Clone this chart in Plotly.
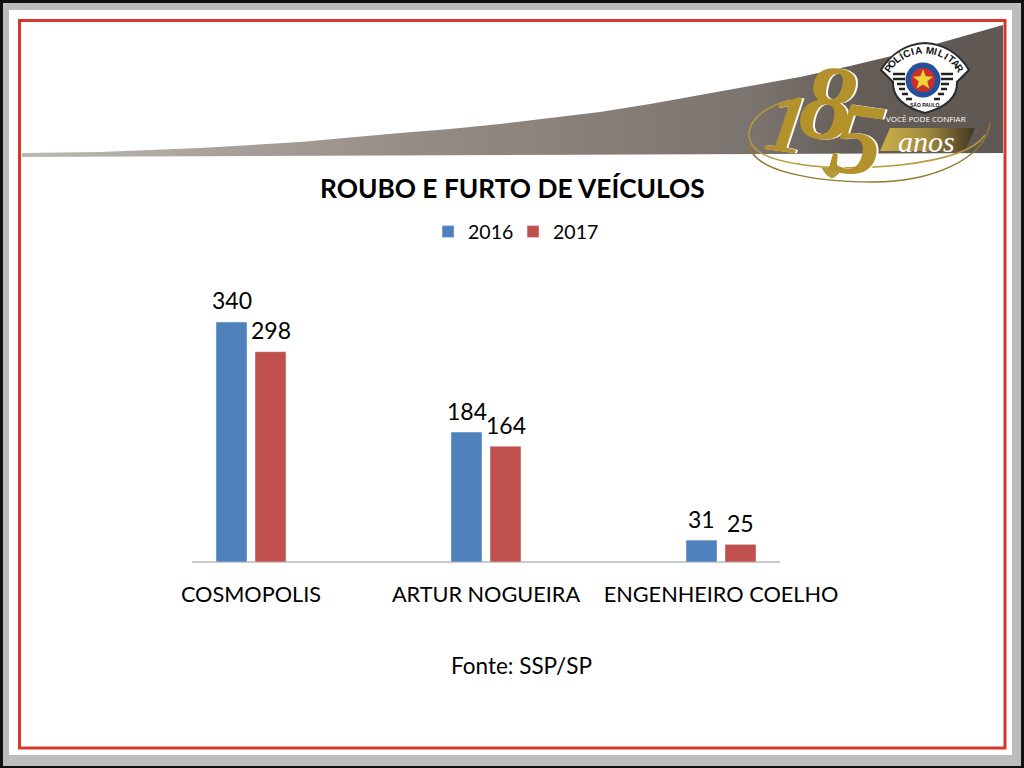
import numpy as np
import plotly.graph_objects as go

cidades = ["COSMOPOLIS", "ARTUR NOGUEIRA", "ENGENHEIRO COELHO"]
valores_2016 = [340, 184, 31]
valores_2017 = [298, 164, 25]

FONTE = "Lato"

#wedge at the top of the slide, in pixels of the page
faixa_x = [22, 100, 200, 300, 400, 450, 500, 550, 600, 650, 700, 750, 800, 850, 900, 950, 1003, 1003, 22]
faixa_y = [153, 152, 148, 142, 133, 129, 124, 118, 112, 104, 95, 86, 77, 66, 54, 40, 25, 153, 157]
anos_x = [890, 975, 965, 880]
anos_y = [128, 128, 151, 151]

fig = go.Figure()

fig.add_trace(go.Bar(x=cidades, y=valores_2016, name="2016", marker_color="#4F81BD"))
fig.add_trace(go.Bar(x=cidades, y=valores_2017, name="2017", marker_color="#C0504D"))

#wedge and the box behind "anos", on a second pair of axes that count page pixels
fig.add_trace(go.Scatter(x=faixa_x, y=faixa_y, xaxis="x2", yaxis="y2", mode="none", fill="toself",
                         showlegend=False, hoverinfo="skip",
                         fillgradient=dict(type="horizontal", colorscale=[[0, "#bdb8b3"], [0.4, "#958c85"], [0.75, "#7b736d"], [0.85, "#655d57"], [1, "#5f5751"]])))
fig.add_trace(go.Scatter(x=anos_x, y=anos_y, xaxis="x2", yaxis="y2", mode="none", fill="toself",
                         showlegend=False, hoverinfo="skip",
                         fillgradient=dict(type="horizontal", colorscale=[[0, "#cdb04a"], [0.5, "#a08a3c"], [1, "#3f3524"]])))


def caixa(x0, y0, x1, y1, cor):
    #paper refs so the frame stays under both subplots
    return dict(type="rect", xref="paper", yref="paper", x0=x0/1024, y0=1-y0/768, x1=x1/1024, y1=1-y1/768,
                fillcolor=cor, line_width=0, layer="below")


def traco(caminho, cor="#b49a3a", largura=1.5, fundo=None):
    return dict(type="path", xref="x2", yref="y2", path=caminho, line=dict(color=cor, width=largura),
                fillcolor=fundo if fundo else "rgba(0,0,0,0)", layer="above")


def circulo(cx, cy, r, cor):
    return dict(type="circle", xref="x2", yref="y2", x0=cx-r, y0=cy-r, x1=cx+r, y1=cy+r, fillcolor=cor, line_width=0, layer="above")


formas = [
    #frame of the slide
    caixa(0, 0, 1024, 768, "#111111"),
    caixa(3, 3, 1021, 766, "#bdbdbd"),
    caixa(9, 10, 1012, 755, "#ffffff"),
    dict(type="rect", xref="paper", yref="paper", x0=19.5/1024, y0=1-20.5/768, x1=1005/1024, y1=1-748/768,
         line=dict(color="#d5392c", width=3), layer="below"),
    #bar baseline
    dict(type="line", xref="paper", yref="paper", x0=192/1024, y0=1-562/768, x1=780/1024, y1=1-562/768,
         line=dict(color="#b8b8b8", width=1.5), layer="below"),
    #swooshes of the 185 logo
    traco("M 790,100 C 760,108 745,125 750,140 C 756,165 830,172 900,165 C 945,160 975,150 985,135", "#b49a3a", 1.5),
    traco("M 749,143 C 750,170 810,182 873,182 C 930,182 985,160 990,123", "#8f7a2e", 1.5),
    traco("M 822,168 L 842,168 Q 838,176 832,178 Q 826,176 822,168 Z", "#b49a3a", 1, "#b49a3a"),
    #police badge
    traco("M 881,70 C 890,55 905,44 925,43 C 945,44 960,55 969,70 L 957,82 Q 958,104 925,113 Q 892,104 893,82 Z", "#2b2b2b", 2, "#ffffff"),
]

for y_l, x_a, x_b in [(84, 897, 905), (89, 899, 905), (94, 902, 908), (99, 906, 912)]:
    formas.append(traco(f"M {x_a},{y_l} L {x_b},{y_l}", "#222222", 2.5))
    formas.append(traco(f"M {1846-x_b},{y_l} L {1846-x_a},{y_l}", "#222222", 2.5))
for y_l in [74, 79]:
    formas.append(traco(f"M 893,{y_l} L 905,{y_l}", "#222222", 2.5))
    formas.append(traco(f"M 941,{y_l} L 953,{y_l}", "#222222", 2.5))

formas.append(circulo(923, 80, 17.5, "#26509b"))
formas.append(circulo(923, 80, 12, "#c8312b"))

#star, five outer and five inner corners
ang = np.deg2rad(np.arange(0, 360, 36) - 90)
raios = np.array([10, 4.2] * 5)
estrela = " L ".join(f"{923+r*np.cos(a):.1f},{80+r*np.sin(a):.1f}" for r, a in zip(raios, ang))
formas.append(traco(f"M {estrela} Z", "#f0d23c", 0.5, "#f0d23c"))

notas = []


def texto(x, y, t, tam, cor="#000000", bold=False, fonte=FONTE, rot=0, estilo="normal"):
    notas.append(dict(x=x, y=y, xref="x2", yref="y2", text=f"<b>{t}</b>" if bold else t, showarrow=False, textangle=rot,
                      font=dict(family=fonte, size=tam, color=cor, style=estilo), xanchor="center", yanchor="middle"))


texto(512, 188, "ROUBO E FURTO DE VEÍCULOS", 26.3, bold=True)
texto(521, 665, "Fonte: SSP/SP", 22.5)

#value labels sit higher above the bars than textposition outside allows
for valores, deslocamento in [(valores_2016, -19.5), (valores_2017, 19.5)]:
    for cidade, valor in zip(cidades, valores):
        notas.append(dict(x=cidade, y=valor, xref="x", yref="y", text=str(valor), showarrow=False, xshift=deslocamento, yshift=21.5,
                          font=dict(family=FONTE, size=23, color="#000000"), xanchor="center", yanchor="middle"))

#letters of the badge follow its arc
letras = "POLÍCIA MILITAR"
for i, l in enumerate(letras):
    a = -54 + i*108/(len(letras)-1)
    texto(924+44*np.sin(np.deg2rad(a)), 94-44*np.cos(np.deg2rad(a)), l, 10, "#111111", True, "Liberation Sans", a)
texto(924, 105, "SÃO PAULO", 5, "#111111", True, "Liberation Sans")
texto(926, 118, "VOCÊ PODE CONFIAR", 8, "#ffffff", False, "Open Sans")

#the gold numbers with a thin white edge
for dx, cor in [(1.5, "#ffffff"), (0, "#b3922c")]:
    texto(787+dx, 123, "1", 84, cor, True, "Liberation Serif", 8, "italic")
    texto(828+dx, 102, "8", 108, cor, True, "Liberation Serif", 8, "italic")
    texto(858+dx, 138, "5", 104, cor, True, "Liberation Serif", 8, "italic")
texto(926, 141, "anos", 30, "#ffffff", False, "Liberation Serif", 0, "italic")

fig.update_layout(
    width=1024,
    height=768,
    margin=dict(l=0, r=0, t=0, b=0, autoexpand=False),
    paper_bgcolor="#ffffff",
    plot_bgcolor="rgba(0,0,0,0)",
    barmode="group",
    bargap=0.668,
    bargroupgap=0.205,
    shapes=formas,
    annotations=notas,
    font=dict(family=FONTE, color="#000000"),
    legend=dict(orientation="h", x=0.418, y=0.698, xanchor="left", yanchor="middle", font=dict(family=FONTE, size=19.5),
                entrywidth=40, bgcolor="rgba(0,0,0,0)"),
    xaxis=dict(domain=[133.5/1024, 838.5/1024], showline=False, showgrid=False, zeroline=False, ticks="outside", ticklen=13,
               tickcolor="rgba(0,0,0,0)", tickfont=dict(family=FONTE, size=21.7, color="#000000"), fixedrange=True),
    yaxis=dict(domain=[1-562/768, 1-250/768], range=[0, 442], visible=False, fixedrange=True),
    xaxis2=dict(domain=[0, 1], range=[0, 1024], visible=False, anchor="y2", fixedrange=True),
    yaxis2=dict(domain=[0, 1], range=[768, 0], visible=False, anchor="x2", fixedrange=True),
)

fig.write_html("out.html", config=dict(displayModeBar=False),
               post_script="document.body.style.margin='0';document.documentElement.style.overflow='hidden';")
